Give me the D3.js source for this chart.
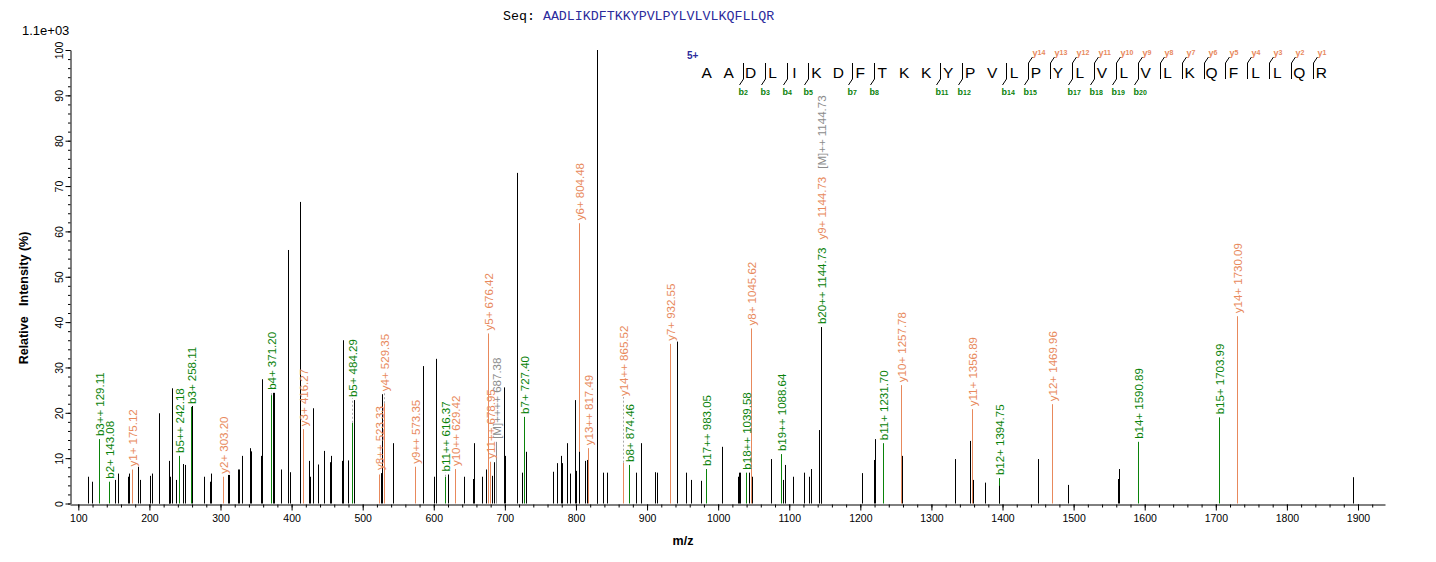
<!DOCTYPE html>
<html>
<head>
<meta charset="utf-8">
<script src="https://d3js.org/d3.v7.min.js"></script>
<style>
  body { margin: 0; background: #fff; }
  svg { display: block; font-family: Arial, "Liberation Sans", sans-serif; }
</style>
</head>
<body>
<svg id="chart" width="1436" height="562"></svg>
<script>
// ---- data ----
const sequence = "AADLIKDFTKKYPVLPYLVLVLKQFLLQR";
const precursorCharge = "5+";
const maxIntensityText = "1.1e+03";
const bSeqIons = [2, 3, 4, 5, 7, 8, 11, 12, 14, 15, 17, 18, 19, 20];
const ySeqIons = [14, 13, 12, 11, 10, 9, 8, 7, 6, 5, 4, 3, 2, 1];

// unannotated peaks (m/z, relative intensity %)
const peakMz = [114.0, 119.7, 151.6, 156.3, 169.5, 171.3, 184.4, 187.2, 200.9, 204.1,
  213.1, 214.0, 227.2, 228.1, 229.5, 232.3, 237.9, 247.7, 249.6, 260.4,
  276.8, 284.8, 286.3, 311.0, 312.5, 325.1, 326.5, 329.9, 342.0, 343.4,
  357.5, 358.9, 374.4, 375.2, 384.7, 395.0, 397.4, 411.9, 425.0, 425.6,
  430.6, 437.7, 445.2, 454.5, 456.0, 470.6, 472.9, 479.9, 487.8, 525.9,
  527.3, 543.2, 585.4, 600.9, 602.8, 620.2, 643.1, 655.7, 657.1, 668.4,
  673.2, 681.6, 685.3, 699.3, 700.8, 717.6, 724.7, 729.4, 768.3, 773.1,
  779.5, 781.0, 787.1, 792.2, 798.8, 799.8, 804.4, 812.9, 816.1, 829.3,
  830.1, 838.6, 844.2, 884.6, 891.7, 911.3, 914.6, 942.7, 954.9, 962.4,
  976.5, 1006.0, 1028.5, 1029.5, 1030.4, 1044.0, 1047.4, 1074.5, 1091.8, 1094.7,
  1105.9, 1121.4, 1127.6, 1131.3, 1141.6, 1144.73, 1203.0, 1219.9, 1221.3, 1259.3,
  1333.8, 1354.5, 1357.8, 1376.0, 1395.3, 1449.7, 1492.8, 1562.3, 1563.2, 1892.4];
const peakInt = [5.9, 4.8, 5.2, 6.6, 5.9, 6.6, 8.1, 5.2, 6.1, 6.6,
  12.2, 19.9, 5.3, 9.4, 5.9, 25.4, 5.2, 8.7, 8.5, 21.5,
  5.9, 4.8, 6.6, 6.3, 6.3, 7.5, 7.5, 10.5, 12.2, 11.5,
  10.5, 27.4, 24.4, 24.4, 7.5, 55.9, 6.9, 66.5, 9.4, 5.9,
  21.0, 8.6, 11.6, 9.1, 10.5, 9.4, 36.0, 9.5, 22.8, 6.7,
  24.1, 13.3, 30.3, 5.9, 31.9, 6.4, 5.9, 5.4, 13.3, 5.9,
  7.5, 6.1, 9.1, 25.6, 10.5, 72.9, 6.8, 11.4, 7.0, 8.9,
  10.5, 8.9, 13.3, 6.6, 22.8, 7.2, 11.4, 9.4, 9.6, 9.6,
  100, 6.8, 6.8, 6.8, 13.3, 6.9, 6.8, 35.7, 6.8, 5.2,
  5.0, 12.5, 5.9, 6.8, 6.8, 6.8, 5.9, 9.8, 5.2, 8.5,
  5.9, 6.8, 5.9, 7.6, 16.2, 38.9, 6.7, 9.6, 14.2, 10.5,
  9.8, 13.8, 5.2, 4.6, 3.9, 9.8, 4.1, 5.4, 7.6, 5.8];

// annotated fragment ions
const ionText = ["b3++ 129.11", "b2+ 143.08", "b5++ 242.18", "b3+ 258.11", "b4+ 371.20",
  "b5+ 484.29", "b11++ 616.37", "b7+ 727.40", "b8+ 874.46", "b17++ 983.05",
  "b18++ 1039.58", "b19++ 1088.64", "b20++ 1144.73", "b11+ 1231.70", "b12+ 1394.75",
  "b14+ 1590.89", "b15+ 1703.99",
  "y1+ 175.12", "y2+ 303.20", "y3+ 416.27", "y8++ 523.33", "y4+ 529.35",
  "y9++ 573.35", "y10++ 629.42", "y5+ 676.42", "y11++ 678.95", "y6+ 804.48",
  "y13++ 817.49", "y14++ 865.52", "y7+ 932.55", "y8+ 1045.62", "y9+ 1144.73",
  "y10+ 1257.78", "y11+ 1356.89", "y12+ 1469.96", "y14+ 1730.09",
  "[M]++++ 687.38", "[M]++ 1144.73"];
const ionMz = [129.11, 143.08, 242.18, 258.11, 371.20, 484.29, 616.37, 727.40, 874.46, 983.05,
  1039.58, 1088.64, 1144.73, 1231.70, 1394.75, 1590.89, 1703.99,
  175.12, 303.20, 416.27, 523.33, 529.35, 573.35, 629.42, 676.42, 678.95, 804.48,
  817.49, 865.52, 932.55, 1045.62, 1144.73, 1257.78, 1356.89, 1469.96, 1730.09,
  687.38, 1144.73];
const ionInt = [14.2, 4.8, 10.5, 21.3, 23.9, 17.8, 5.9, 19.1, 8.5, 7.6,
  6.8, 10.9, 38.9, 13.3, 5.6, 13.6, 19.0,
  7.5, 5.9, 16.4, 6.4, 22.1, 8.1, 7.6, 37.5, 9.2, 61.8,
  12.2, 9.0, 35.2, 38.6, 38.9, 26.1, 20.8, 21.9, 41.3,
  13.6, 38.9];
const ionKind = ["b", "b", "b", "b", "b", "b", "b", "b", "b", "b",
  "b", "b", "b", "b", "b", "b", "b",
  "y", "y", "y", "y", "y", "y", "y", "y", "y", "y",
  "y", "y", "y", "y", "y", "y", "y", "y", "y",
  "M", "M"];

const xTickValues = [100, 200, 300, 400, 500, 600, 700, 800, 900, 1000,
  1100, 1200, 1300, 1400, 1500, 1600, 1700, 1800, 1900];
const yTickValues = [0, 10, 20, 30, 40, 50, 60, 70, 80, 90, 100];

// ---- drawing ----
const svg = d3.select('#chart');

const COLORS = { b: '#0a820a', y: '#e8895c', M: '#8c8c8c', seq: '#2b2b9c' };
const LABEL_FONT = 11.5;

const x = d3.scaleLinear().domain([88.3, 1938]).range([70, 1385]);
const y = d3.scaleLinear().domain([0, 100]).range([503.5, 50]);
const px = v => Math.round(x(v)) + 0.5;

const peaks = peakMz.map((mz, i) => ({ mz: mz, int: peakInt[i] }));
const ions = ionText.map((t, i) => ({ text: t, mz: ionMz[i], int: ionInt[i], kind: ionKind[i] }));

drawAxes();
drawPeaks();
drawLabels();
drawHeader();
drawSequence();

function drawAxes() {
    const gx = svg.append('g').attr('transform', 'translate(0,504.5)');
    gx.append('g')
        .call(d3.axisBottom(x).tickValues(d3.range(100, 1940, 20)).tickSize(3).tickSizeOuter(0).tickFormat(''));
    gx.append('g')
        .call(d3.axisBottom(x).tickValues(xTickValues).tickSize(6).tickSizeOuter(0).tickPadding(4).tickFormat(d3.format('d')))
        .call(g => g.select('.domain').remove());
    gx.selectAll('text').attr('font-size', 10.5).attr('fill', '#000').attr('font-family', 'Arial, "Liberation Sans", sans-serif');
    gx.selectAll('line, path').attr('stroke', '#000');

    const gy = svg.append('g').attr('transform', 'translate(70.5,0)');
    gy.append('g')
        .call(d3.axisLeft(y).tickValues(d3.range(0, 101, 2)).tickSize(2.5).tickSizeOuter(0).tickFormat(''));
    gy.append('g')
        .call(d3.axisLeft(y).tickValues(yTickValues).tickSize(5).tickSizeOuter(0))
        .call(g => g.select('.domain').remove());
    gy.selectAll('line, path').attr('stroke', '#000');
    gy.selectAll('.tick text')
        .attr('transform', 'rotate(-90)')
        .attr('x', 0)
        .attr('y', -8)
        .attr('dy', 0)
        .attr('text-anchor', 'middle')
        .attr('font-size', 10.5)
        .attr('fill', '#000')
        .attr('font-family', 'Arial, "Liberation Sans", sans-serif');

    svg.append('text')
        .attr('x', 683).attr('y', 545)
        .attr('text-anchor', 'middle')
        .attr('font-size', 12.5).attr('font-weight', 'bold')
        .text('m/z');
    svg.append('text')
        .attr('transform', 'translate(28,298) rotate(-90)')
        .attr('text-anchor', 'middle')
        .attr('font-size', 12.5).attr('font-weight', 'bold')
        .style('white-space', 'pre')
        .text('Relative   Intensity (%)');
}

function drawPeaks() {
    // annotated lines first, plain peaks on top
    svg.append('g').selectAll('line')
        .data(ions)
        .join('line')
        .attr('x1', d => px(d.mz)).attr('x2', d => px(d.mz))
        .attr('y1', y(0)).attr('y2', d => y(d.int))
        .attr('stroke', d => COLORS[d.kind])
        .attr('stroke-width', 1);

    svg.append('g').selectAll('line')
        .data(peaks)
        .join('line')
        .attr('x1', d => px(d.mz)).attr('x2', d => px(d.mz))
        .attr('y1', y(0)).attr('y2', d => y(d.int))
        .attr('stroke', '#000')
        .attr('stroke-width', 1);
}

function drawLabels() {
    const g = svg.append('g');
    const placed = [];
    ['b', 'y', 'M'].forEach(kind => {
        ions.filter(d => d.kind === kind).forEach(d => {
            const lx = px(d.mz);
            const top = y(d.int);
            const t = g.append('text')
                .text(d.text)
                .attr('font-size', LABEL_FONT)
                .attr('fill', COLORS[d.kind])
                .attr('dominant-baseline', 'central')
                .attr('text-anchor', 'start');
            const len = t.node().getComputedTextLength();
            let base = top - 3;

            // a short neighbour peak that would end inside the label pushes it up
            peaks.forEach(p => {
                const dx = Math.abs(x(p.mz) - x(d.mz));
                const pt = y(p.int);
                if (dx < 3 && pt < top - 1 && pt > base - len) base = Math.min(base, pt - 3);
            });
            let leader = base < top - 5;

            // avoid labels already placed
            let moved = true;
            while (moved) {
                moved = false;
                placed.forEach(o => {
                    const dx = Math.abs(o.x - lx);
                    const close = kind === 'M' ? dx < 1 : dx < 8;
                    if (close && base > o.base - o.len - 2 && base - len < o.base + 2) {
                        base = o.base - o.len - 8;
                        moved = true;
                        if (dx >= 1) leader = true;
                    }
                });
            }
            placed.push({ x: lx, base: base, len: len });

            t.attr('transform', 'translate(' + lx + ',' + base + ') rotate(-90)');

            if (leader) {
                g.append('line')
                    .attr('x1', lx).attr('x2', lx)
                    .attr('y1', top).attr('y2', base + 1)
                    .attr('stroke', '#aaa')
                    .attr('stroke-dasharray', '2,2');
            }
        });
    });
}

function drawHeader() {
    svg.append('text')
        .attr('x', 22).attr('y', 35)
        .attr('font-size', 13)
        .text(maxIntensityText);

    const seqText = svg.append('text')
        .attr('x', 503).attr('y', 20)
        .attr('font-family', '"Liberation Mono", "Courier New", monospace')
        .attr('font-size', 13.3)
        .style('white-space', 'pre');
    seqText.append('tspan').attr('fill', '#000').text('Seq: ');
    seqText.append('tspan').attr('fill', COLORS.seq).text(sequence);
}

function drawSequence() {
    const n = sequence.length;
    const letterX = d3.scaleLinear().domain([0, n - 1]).range([706.7, 1321.3]);
    const g = svg.append('g');

    g.append('text')
        .attr('x', 687).attr('y', 59)
        .attr('font-size', 10).attr('font-weight', 'bold')
        .attr('fill', COLORS.seq)
        .text(precursorCharge);

    g.selectAll('text.res')
        .data(sequence.split(''))
        .join('text')
        .attr('class', 'res')
        .attr('x', (c, i) => letterX(i))
        .attr('y', 78)
        .attr('text-anchor', 'middle')
        .attr('font-size', 15.5)
        .attr('fill', '#000')
        .text(c => c);

    const BAR_TOP = 63, BAR_BOTTOM = 79;
    const cuts = new Set();
    bSeqIons.forEach(k => cuts.add(k));
    ySeqIons.forEach(k => cuts.add(n - k));
    const barX = i => Math.round(letterX(i) - 8) + 0.5;

    cuts.forEach(i => {
        g.append('line')
            .attr('x1', barX(i)).attr('x2', barX(i))
            .attr('y1', BAR_TOP).attr('y2', BAR_BOTTOM)
            .attr('stroke', '#000');
    });

    bSeqIons.forEach(k => {
        const bx = barX(k);
        g.append('line')
            .attr('x1', bx).attr('y1', BAR_BOTTOM)
            .attr('x2', bx - 4).attr('y2', BAR_BOTTOM + 6)
            .attr('stroke', '#000');
        const t = g.append('text')
            .attr('x', bx - 5).attr('y', BAR_BOTTOM + 16)
            .attr('font-weight', 'bold')
            .attr('fill', COLORS.b);
        t.append('tspan').attr('font-size', 9).text('b');
        t.append('tspan').attr('font-size', 7).text(k);
    });

    ySeqIons.forEach(k => {
        const bx = barX(n - k);
        g.append('line')
            .attr('x1', bx).attr('y1', BAR_TOP)
            .attr('x2', bx + 4).attr('y2', BAR_TOP - 6)
            .attr('stroke', '#000');
        const t = g.append('text')
            .attr('x', bx + 4).attr('y', BAR_TOP - 7)
            .attr('font-weight', 'bold')
            .attr('fill', COLORS.y);
        t.append('tspan').attr('font-size', 9).text('y');
        t.append('tspan').attr('font-size', 7).attr('dy', -1).text(k);
    });
}
</script>
</body>
</html>
